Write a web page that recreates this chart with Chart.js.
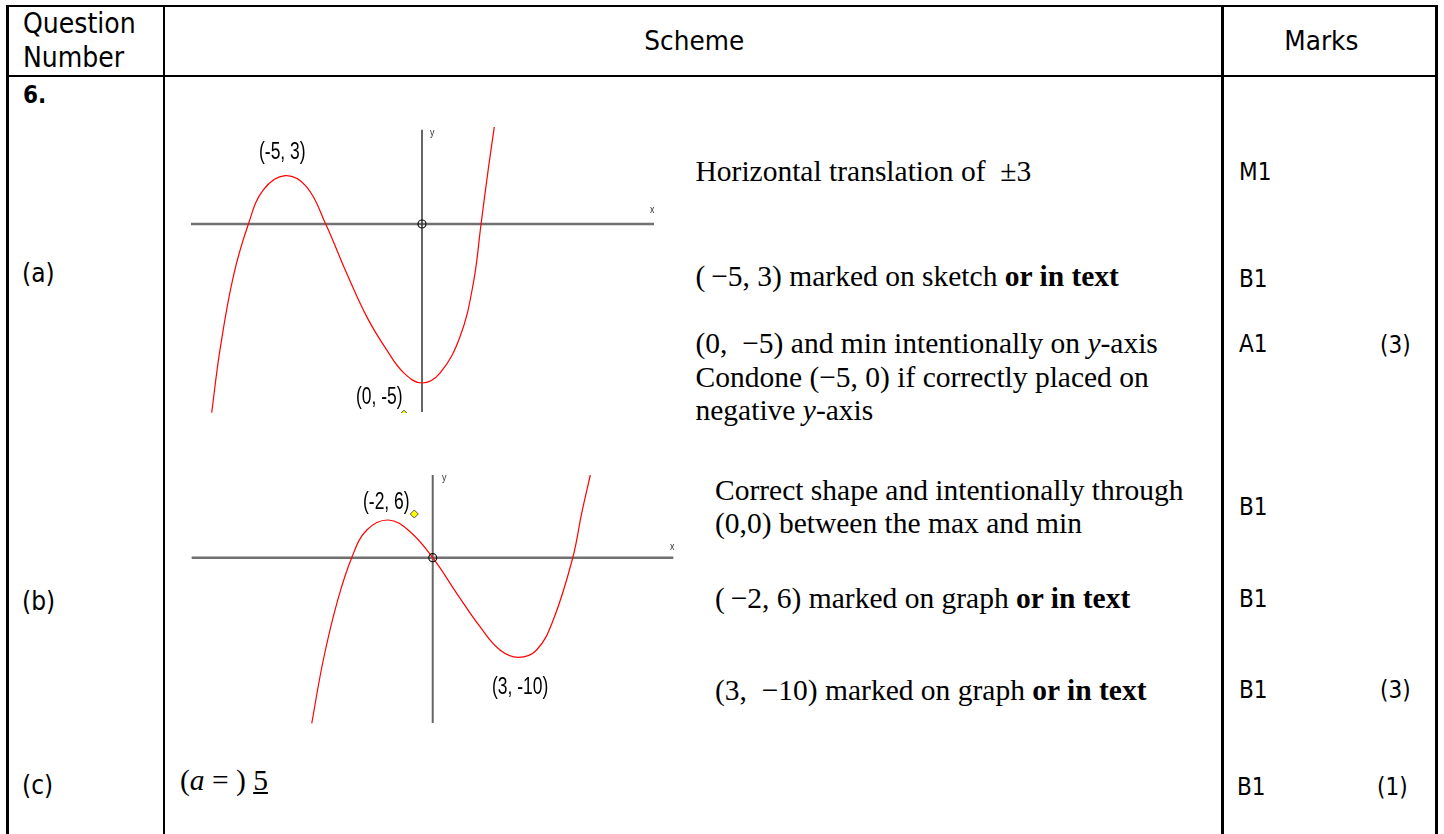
<!DOCTYPE html>
<html>
<head>
<meta charset="utf-8">
<script src="https://cdn.jsdelivr.net/npm/chart.js@4.4.1/dist/chart.umd.min.js"></script>
<style>
  html, body { margin: 0; padding: 0; background: #fff; }
  #page { position: relative; width: 1444px; height: 834px; overflow: hidden; }
  .ln { position: absolute; background: #000; }
  .t { position: absolute; white-space: nowrap; line-height: normal; color: #000; transform-origin: 0 0; }
  .sans { font-family: "DejaVu Sans", sans-serif; }
  .serif { font-family: "Liberation Serif", serif; }
  .lab { font-family: "Liberation Sans", sans-serif; }
  canvas { position: absolute; }
</style>
</head>
<body>
<div id="page">
  <canvas id="sketchA" width="463" height="286" style="left:191px;top:127px;"></canvas>
  <canvas id="sketchB" width="483" height="254" style="left:191px;top:470px;"></canvas>
</div>
<script>
// sketch (a): points
const curveAX = [-7.62, -7.32, -6.84, -6.29, -5.75, -4.96, -4.18, -3.49, -2.73, -2.00, -1.28, -0.65, 0, 0.65, 1.38, 1.86, 2.14, 2.40, 2.62];
const curveAY = [-5.93, -3.96, -1.66, 0, 1.07, 1.52, 1.17, 0, -1.55, -2.92, -3.96, -4.69, -5.00, -4.69, -3.54, -1.86, 0, 1.72, 3.05];
const markerA = {x: -0.65, y: -5.98};

// sketch (b)
const curveBX = [-5.45, -4.93, -4.32, -3.65, -2.97, -2.00, -1.02, 0, 1.08, 2.13, 3.03, 3.86, 4.68, 5.43, 6.31, 6.71, 7.10];
const curveBY = [-16.56, -10.23, -4.56, 0, 2.77, 3.77, 2.60, 0, -3.56, -6.90, -9.23, -9.96, -9.23, -6.23, 0, 4.44, 8.27];
const markerB = {x: -0.83, y: 4.37};

const page = document.getElementById('page');

// table rules
function rule(x, y, w, h) {
  const d = document.createElement('div');
  d.className = 'ln';
  d.style.left = x + 'px'; d.style.top = y + 'px';
  d.style.width = w + 'px'; d.style.height = h + 'px';
  page.appendChild(d);
}
rule(6, 4.6, 1432, 2.7);
rule(6, 74.5, 1432, 2.8);
rule(6, 4.6, 2.7, 840);
rule(162.7, 4.6, 2.7, 840);
rule(1221.3, 4.6, 2.7, 840);
rule(1435.3, 4.6, 2.7, 840);

// text placed by baseline
const ASC = {sans: 0.928, serif: 0.891, lab: 0.905};
function put(html, x, base, cls, size, extra) {
  const d = document.createElement('div');
  d.className = 't ' + cls;
  d.innerHTML = html;
  d.style.fontSize = size + 'px';
  d.style.left = x + 'px';
  d.style.top = (base - ASC[cls] * size) + 'px';
  if (extra) Object.assign(d.style, extra);
  page.appendChild(d);
  return d;
}
function putMid(html, cx, base, cls, size) {
  const d = put(html, cx, base, cls, size, {visibility: 'hidden'});
  const w = d.getBoundingClientRect().width;
  d.style.left = (cx - w / 2) + 'px';
  d.style.visibility = 'visible';
}
const narrow = {transform: 'scaleX(0.9)'};

put('Question', 23, 33, 'sans', 28, narrow);
put('Number', 23, 67, 'sans', 28, narrow);
putMid('<span style="display:inline-block;transform:scaleX(0.92);transform-origin:50% 0">Scheme</span>', 694, 50, 'sans', 27);
putMid('<span style="display:inline-block;transform:scaleX(0.92);transform-origin:50% 0">Marks</span>', 1321, 50, 'sans', 27);

put('<b>6.</b>', 23, 103, 'sans', 24, narrow);
put('(a)', 22, 282, 'sans', 26, narrow);
put('(b)', 22, 610, 'sans', 26, narrow);
put('(c)', 22, 794, 'sans', 26, narrow);

// marks column
const mk = 24;
put('M1', 1239, 180, 'sans', mk, narrow);
put('B1', 1239, 287, 'sans', mk, narrow);
put('A1', 1239, 352, 'sans', mk, narrow);
put('(3)', 1380, 353, 'sans', mk, narrow);
put('B1', 1239, 515, 'sans', mk, narrow);
put('B1', 1239, 607, 'sans', mk, narrow);
put('B1', 1239, 698, 'sans', mk, narrow);
put('(3)', 1380, 698, 'sans', mk, narrow);
put('B1', 1237, 795, 'sans', mk, narrow);
put('(1)', 1377, 795, 'sans', mk, narrow);

// scheme text
const fs = 29.5;
put('Horizontal translation of&nbsp; ±3', 695.5, 181.7, 'serif', fs);
put('(&thinsp;−5, 3) marked on sketch <b>or in text</b>', 695.5, 286.7, 'serif', fs);
put('(0, &nbsp;−5) and min intentionally on <i>y</i>-axis', 695.5, 353, 'serif', fs);
put('Condone (−5, 0) if correctly placed on', 695.5, 387, 'serif', fs);
put('negative <i>y</i>-axis', 695.5, 420.5, 'serif', fs);
put('Correct shape and intentionally through', 715, 500, 'serif', fs);
put('(0,0) between the max and min', 715, 533.3, 'serif', fs);
put('(&thinsp;−2, 6) marked on graph <b>or in text</b>', 715, 608.3, 'serif', fs);
put('(3, &nbsp;−10) marked on graph <b>or in text</b>', 715, 700, 'serif', fs);
put('(<i>a</i> = ) <u>5</u>', 180, 790, 'serif', fs);

// sketch labels
const nar = {transform: 'scaleX(0.76)'};
put('(-5, 3)', 259, 158.5, 'lab', 23, nar);
put('(0, -5)', 356, 403.5, 'lab', 23, nar);
put('(-2, 6)', 362.5, 508.5, 'lab', 23, nar);
put('(3, -10)', 491.5, 693.5, 'lab', 23, nar);
const small = {transform: 'scaleX(0.8)', color: '#333'};
put('x', 650, 213, 'lab', 11, small);
put('y', 430, 135.5, 'lab', 11, small);
put('x', 669.5, 550, 'lab', 11, small);
put('y', 441.5, 480.5, 'lab', 11, small);

const toPts = (xs, ys) => xs.map((x, i) => ({x: x, y: ys[i]}));

function drawSketch(id, s) {
  new Chart(document.getElementById(id), {
    type: 'scatter',
    data: {
      datasets: [
        { data: [{x: 0, y: 0}], pointRadius: 4, pointBackgroundColor: 'rgba(0,0,0,0)',
          pointBorderColor: '#111', pointBorderWidth: 1.2, order: 0 },
        { data: [s.marker], pointStyle: 'rectRot', pointRadius: 4, pointBackgroundColor: '#ffff00',
          pointBorderColor: '#555', pointBorderWidth: 1, order: 1 },
        { data: toPts(s.cx, s.cy), showLine: true, borderColor: '#ff0000', borderWidth: 1.2,
          pointRadius: 0, tension: 0.4, order: 2 },
        { data: [{x: 0, y: s.yAxis[0]}, {x: 0, y: s.yAxis[1]}], showLine: true,
          borderColor: s.yColor, borderWidth: s.yWidth, pointRadius: 0, order: 3 },
        { data: [{x: s.xAxis[0], y: 0}, {x: s.xAxis[1], y: 0}], showLine: true,
          borderColor: '#707070', borderWidth: 2.5, pointRadius: 0, order: 4 }
      ]
    },
    options: {
      responsive: false,
      animation: false,
      events: [],
      layout: { padding: 0, autoPadding: false },
      plugins: { legend: { display: false }, tooltip: { enabled: false } },
      scales: {
        x: { type: 'linear', display: false, min: s.xMin, max: s.xMax },
        y: { type: 'linear', display: false, min: s.yMin, max: s.yMax }
      }
    }
  });
}

drawSketch('sketchA', {
  cx: curveAX, cy: curveAY, marker: markerA,
  xMin: -8.370, xMax: 8.406, yMin: -5.943, yMax: 3.050,
  xAxis: [-8.370, 8.406], yAxis: [-5.91, 2.96], yColor: '#333', yWidth: 1.5
});
drawSketch('sketchB', {
  cx: curveBX, cy: curveBY, marker: markerB,
  xMin: -10.89, xMax: 10.87, yMin: -16.63, yMax: 8.77,
  xAxis: [-10.86, 10.84], yAxis: [-16.53, 8.27], yColor: '#666', yWidth: 2
});
</script>
</body>
</html>
